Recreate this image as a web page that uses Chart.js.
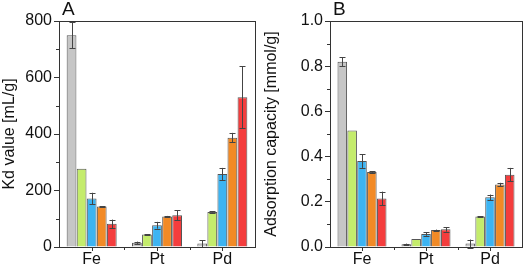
<!DOCTYPE html>
<html>
<head>
<meta charset="utf-8">
<script src="https://cdn.jsdelivr.net/npm/chart.js@4"></script>
<style>
  html, body { margin: 0; padding: 0; background: #fff; }
  .wrap { display: flex; width: 524px; height: 270px; }
  .panel { width: 262px; height: 270px; }
</style>
</head>
<body>
<div class="wrap">
  <div class="panel"><canvas id="chartA" width="262" height="270"></canvas></div>
  <div class="panel"><canvas id="chartB" width="262" height="270"></canvas></div>
</div>
<script>
const metals = ['Fe', 'Pt', 'Pd'];
const seriesNames = ['S1', 'S2', 'S3', 'S4', 'S5'];
const barColors = ['#c6c6c6', '#c4ec6c', '#3db4f2', '#f28a26', '#f43d3d'];

// panel A, Kd value [mL/g]
const kdS1 = [750, 15, 12];
const kdS2 = [277, 44, 124];
const kdS3 = [172, 77, 258];
const kdS4 = [143, 108, 387];
const kdS5 = [82, 112, 530];
const kdErr1 = [47, 4, 12];
const kdErr2 = [0, 2, 2];
const kdErr3 = [20, 12, 22];
const kdErr4 = [2, 2, 17];
const kdErr5 = [15, 18, 110];

// panel B, adsorption capacity [mmol/g]
const capS1 = [0.82, 0.012, 0.015];
const capS2 = [0.515, 0.035, 0.135];
const capS3 = [0.38, 0.058, 0.22];
const capS4 = [0.332, 0.075, 0.277];
const capS5 = [0.215, 0.078, 0.32];
const capErr1 = [0.02, 0.003, 0.018];
const capErr2 = [0, 0, 0.002];
const capErr3 = [0.03, 0.008, 0.012];
const capErr4 = [0.004, 0.002, 0.007];
const capErr5 = [0.03, 0.01, 0.03];

const fontFam = '"Liberation Sans", Arial, sans-serif';
const axisColor = '#333';

// frame, error bars, minor ticks and panel letter
const extras = {
  id: 'extras',
  afterDatasetsDraw(chart, args, opts) {
    const ctx = chart.ctx;
    const a = chart.chartArea;
    const ys = chart.scales.y;
    const xs = chart.scales.x;
    ctx.save();
    // error bars
    ctx.strokeStyle = '#444';
    ctx.lineWidth = 1;
    chart.data.datasets.forEach((ds, di) => {
      const meta = chart.getDatasetMeta(di);
      meta.data.forEach((bar, i) => {
        const e = ds.err[i];
        if (!e) return;
        const v = ds.data[i];
        const x = Math.round(bar.x) + 0.5;
        const y1 = ys.getPixelForValue(v + e);
        const y2 = ys.getPixelForValue(v - e);
        ctx.beginPath();
        ctx.moveTo(x, y1); ctx.lineTo(x, y2);
        ctx.moveTo(x - 3, Math.round(y1) + 0.5); ctx.lineTo(x + 3, Math.round(y1) + 0.5);
        ctx.moveTo(x - 3, Math.round(y2) + 0.5); ctx.lineTo(x + 3, Math.round(y2) + 0.5);
        ctx.stroke();
      });
    });
    // frame
    ctx.strokeStyle = axisColor;
    ctx.strokeRect(Math.round(a.left) + 0.5, Math.round(a.top) + 0.5,
      Math.round(a.right - a.left), Math.round(a.bottom - a.top));
    // minor y ticks
    opts.minor.forEach(v => {
      const y = Math.round(ys.getPixelForValue(v)) + 0.5;
      ctx.beginPath();
      ctx.moveTo(a.left, y); ctx.lineTo(a.left - 3, y);
      ctx.stroke();
    });
    // x ticks at centers and between categories
    const n = metals.length;
    const w = (a.right - a.left) / n;
    for (let i = 0; i < n; i++) {
      const xc = Math.round(xs.getPixelForValue(i)) + 0.5;
      ctx.beginPath();
      ctx.moveTo(xc, a.bottom); ctx.lineTo(xc, a.bottom + 4);
      ctx.stroke();
      if (i > 0) {
        const xb = Math.round(a.left + w * i) + 0.5;
        ctx.beginPath();
        ctx.moveTo(xb, a.bottom); ctx.lineTo(xb, a.bottom + 3);
        ctx.stroke();
      }
    }
    // panel letter
    ctx.fillStyle = '#111';
    ctx.font = '19px ' + fontFam;
    ctx.textBaseline = 'top';
    ctx.fillText(opts.letter, a.left + 3, 0);
    ctx.restore();
  }
};

function makeSets(vals, errs) {
  return vals.map((d, i) => ({
    label: seriesNames[i],
    data: d,
    err: errs[i],
    backgroundColor: barColors[i],
    borderColor: '#555',
    borderWidth: 1,
    categoryPercentage: 0.77,
    barPercentage: 0.97
  }));
}

function makeChart(id, sets, cfg) {
  return new Chart(document.getElementById(id), {
    type: 'bar',
    data: { labels: metals, datasets: sets },
    options: {
      responsive: false,
      animation: false,
      layout: { padding: { top: 21, right: cfg.padRight, left: 0, bottom: 0 } },
      plugins: {
        legend: { display: false },
        tooltip: { enabled: false },
        extras: { letter: cfg.letter, minor: cfg.minor }
      },
      scales: {
        x: {
          offset: true,
          grid: { display: false, drawTicks: false, tickLength: 0 },
          border: { display: true, color: axisColor },
          ticks: { color: '#111', font: { family: fontFam, size: 16 }, padding: 3 },
          afterFit: s => { s.height = 23; }
        },
        y: {
          min: 0,
          max: cfg.max,
          ticks: {
            stepSize: cfg.step,
            color: '#111',
            font: { family: fontFam, size: 16 },
            padding: 2,
            callback: v => cfg.fmt(v)
          },
          grid: { display: true, drawOnChartArea: false, drawTicks: true, tickLength: 5, color: axisColor },
          border: { display: true, color: axisColor },
          title: {
            display: true,
            text: cfg.title,
            color: '#111',
            font: { family: fontFam, size: 16 },
            padding: 0
          },
          afterFit: s => { s.width = cfg.yWidth; }
        }
      }
    },
    plugins: [extras]
  });
}

makeChart('chartA',
  makeSets([kdS1, kdS2, kdS3, kdS4, kdS5], [kdErr1, kdErr2, kdErr3, kdErr4, kdErr5]),
  { letter: 'A', max: 800, step: 200, minor: [100, 300, 500, 700], fmt: v => String(v),
    title: 'Kd value [mL/g]', yWidth: 59, padRight: 7 });

makeChart('chartB',
  makeSets([capS1, capS2, capS3, capS4, capS5], [capErr1, capErr2, capErr3, capErr4, capErr5]),
  { letter: 'B', max: 1.0, step: 0.2, minor: [0.1, 0.3, 0.5, 0.7, 0.9], fmt: v => v.toFixed(1),
    title: 'Adsorption capacity [mmol/g]', yWidth: 68, padRight: 2 });
</script>
</body>
</html>
